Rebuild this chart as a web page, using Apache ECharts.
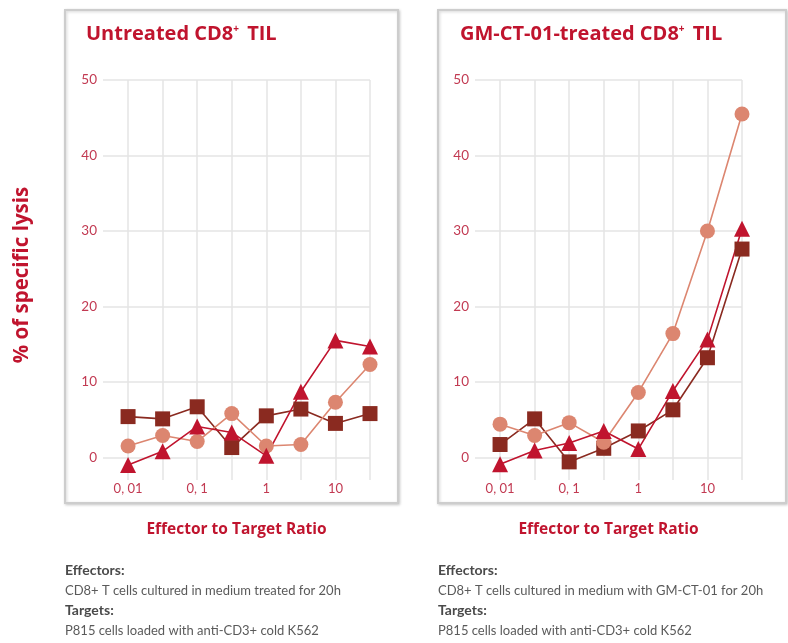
<!DOCTYPE html>
<html>
<head>
<meta charset="utf-8">
<script src="https://cdn.jsdelivr.net/npm/echarts@6/dist/echarts.min.js"></script>
<style>
html,body{margin:0;padding:0;background:#fff;}
#chart{width:788px;height:643px;}
</style>
</head>
<body>
<div id="chart"></div>
<script>
// Categories (effector:target ratio), one per vertical grid line
const ratios = ['0.01', '0.03', '0.1', '0.3', '1', '3', '10', '30'];
const tickLabels = ['0, 01', '', '0, 1', '', '1', '', '10', ''];

// Untreated CD8+ TIL
const untreatedSquares   = [5.4, 5.1, 6.7, 1.3, 5.5, 6.4, 4.5, 5.8];
const untreatedCircles   = [1.5, 2.9, 2.1, 5.8, 1.5, 1.7, 7.3, 12.3];
const untreatedTriangles = [-1.0, 0.8, 4.1, 3.3, 0.2, 8.7, 15.5, 14.7];

// GM-CT-01-treated CD8+ TIL
const treatedSquares   = [1.7, 5.1, -0.6, 1.2, 3.5, 6.3, 13.2, 27.6];
const treatedCircles   = [4.4, 2.9, 4.6, 2.0, 8.6, 16.4, 30.0, 45.5];
const treatedTriangles = [-0.9, 0.9, 1.9, 3.5, 1.1, 8.8, 15.6, 30.3];

const RED = '#c0142e';
const DARK = '#8a2a20';
const SALMON = '#dc8670';
const LABEL = '#c23a52';
const FONT = 'Lato, "Open Sans", sans-serif';
const BOLDFONT = '"Open Sans", Lato, sans-serif';

function pts(arr) { return arr.map((v, i) => [i, v]); }

function mkX(gridIndex) {
  return {
    type: 'value', gridIndex: gridIndex, min: -0.725, max: 7, splitNumber: 8,
    axisLine: {show: false}, axisTick: {show: false},
    splitLine: {show: true, showMinLine: false, lineStyle: {color: '#e4e4e4', width: 1.5}},
    axisLabel: {
      showMinLabel: false, margin: 2, color: LABEL, fontFamily: FONT, fontSize: 13,
      formatter: function (v) { const i = Math.round(v); return (Math.abs(v - i) < 1e-6 && tickLabels[i]) ? tickLabels[i] : ''; }
    },
    name: 'Effector to Target Ratio', nameLocation: 'middle', nameGap: 42,
    nameTextStyle: {color: RED, fontWeight: 'bold', fontSize: 15.5, fontFamily: BOLDFONT}
  };
}
function mkY(gridIndex, withName) {
  const y = {
    type: 'value', gridIndex: gridIndex, min: -3, max: 50, splitNumber: 5,
    axisLine: {show: false}, axisTick: {show: false},
    splitLine: {show: true, showMinLine: false, lineStyle: {color: '#e4e4e4', width: 1.5}},
    axisLabel: {showMinLabel: false, margin: 6, color: LABEL, fontFamily: FONT, fontSize: 13.5}
  };
  if (withName) {
    y.name = '% of specific lysis';
    y.nameLocation = 'middle';
    y.nameGap = 70;
    y.nameRotate = 90;
    y.nameTextStyle = {color: RED, fontWeight: 'bold', fontSize: 20.5, fontFamily: BOLDFONT, padding: [0, 0, 0, 10]};
  }
  return y;
}
function mkSeries(idx, data, symbol, color) {
  return {
    type: 'line', xAxisIndex: idx, yAxisIndex: idx, data: pts(data),
    symbol: symbol, symbolSize: symbol === 'triangle' ? 16 : 15,
    lineStyle: {color: color, width: 1.6},
    itemStyle: {color: color, borderWidth: 0},
    emphasis: {disabled: true}, animation: false
  };
}

function boxRect(x, y, w, h) {
  return {
    type: 'rect', z: -10, shape: {x: x, y: y, width: w, height: h},
    style: {fill: '#fff', stroke: '#cdcdcd', lineWidth: 2, shadowBlur: 3, shadowOffsetX: 1, shadowOffsetY: 1, shadowColor: 'rgba(0,0,0,0.18)'}
  };
}

const titleRich = {sup: {fontSize: 10, fontWeight: 'bold', color: RED, verticalAlign: 'top', padding: [0, 3, 8, 0], fontFamily: BOLDFONT}};
function noteTitle(text, left, top, bold) {
  return {
    text: text, left: left, top: top, padding: 0,
    textStyle: bold ? {fontSize: 14, fontWeight: 'bold', color: '#4a4a4a', fontFamily: FONT}
                    : {fontSize: 13, fontWeight: 'normal', color: '#5a5a5a', fontFamily: FONT}
  };
}

const option = {
  backgroundColor: '#fff',
  animation: false,
  title: [
    {text: 'Untreated CD8{sup|+} TIL', left: 86, top: 24, padding: 0, textStyle: {fontSize: 20, fontWeight: 'bold', color: RED, fontFamily: BOLDFONT, rich: titleRich}},
    {text: 'GM-CT-01-treated CD8{sup|+} TIL', left: 460, top: 24, padding: 0, textStyle: {fontSize: 20, fontWeight: 'bold', color: RED, fontFamily: BOLDFONT, rich: titleRich}},
    noteTitle('Effectors:', 65, 563, true),
    noteTitle('CD8+ T cells cultured in medium treated for 20h', 65, 584, false),
    noteTitle('Targets:', 65, 603, true),
    noteTitle('P815 cells loaded with anti-CD3+ cold K562', 65, 624, false),
    noteTitle('Effectors:', 438, 563, true),
    noteTitle('CD8+ T cells cultured in medium with GM-CT-01 for 20h', 438, 584, false),
    noteTitle('Targets:', 438, 603, true),
    noteTitle('P815 cells loaded with anti-CD3+ cold K562', 438, 624, false)
  ],
  graphic: [boxRect(65, 10, 333, 493), boxRect(438, 10, 348, 493)],
  grid: [
    {left: 103, top: 80, width: 267, height: 400},
    {left: 475, top: 80, width: 267, height: 400}
  ],
  xAxis: [mkX(0), mkX(1)],
  yAxis: [mkY(0, true), mkY(1, false)],
  series: [
    mkSeries(0, untreatedSquares, 'rect', DARK),
    mkSeries(0, untreatedCircles, 'circle', SALMON),
    mkSeries(0, untreatedTriangles, 'triangle', RED),
    mkSeries(1, treatedSquares, 'rect', DARK),
    mkSeries(1, treatedCircles, 'circle', SALMON),
    mkSeries(1, treatedTriangles, 'triangle', RED)
  ]
};

const chart = echarts.init(document.getElementById('chart'), null, {renderer: 'canvas'});
chart.setOption(option);
</script>
</body>
</html>
